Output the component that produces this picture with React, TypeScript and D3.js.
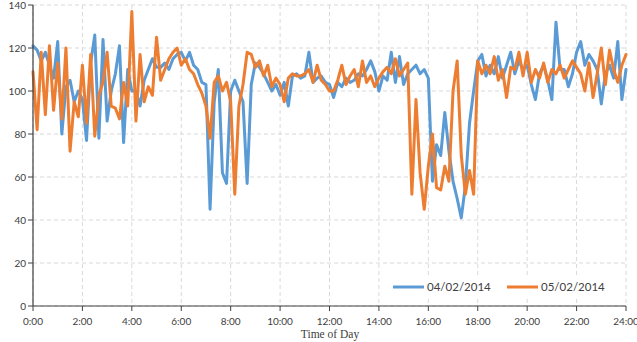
import React from "react";
import * as d3 from "d3";

const seriesNames = ["04/02/2014", "05/02/2014"];
const colors = ["#5B9BD5", "#ED7D31"];

// 10-minute samples, 0:00 .. 24:00
const blue = [
  121, 119, 114, 118, 112, 106, 123, 80, 102, 105, 95, 100, 96, 77, 113, 126, 78, 124, 86, 100,
  108, 121, 76, 110, 100, 100, 93, 105, 110, 115, 111, 111, 113, 110, 115, 117, 118, 114, 118, 112,
  110, 104, 103, 45, 95, 110, 62, 57, 100, 105, 100, 95, 57, 103, 113, 111, 108, 104, 100, 103,
  98, 104, 93, 107, 108, 106, 107, 118, 104, 106, 107, 104, 103, 97, 104, 102, 106, 104, 105, 108,
  107, 110, 114, 109, 100, 107, 105, 118, 104, 116, 103, 108, 110, 112, 108, 110, 106, 58, 75, 70,
  90, 72, 58, 50, 41, 56, 85, 100, 114, 117, 107, 112, 108, 116, 106, 112, 118, 108, 114, 110,
  112, 103, 96, 108, 112, 105, 96, 132, 110, 110, 102, 108, 118, 123, 112, 117, 114, 110, 94, 108,
  112, 106, 123, 96, 110,
];
const orange = [
  109, 82, 118, 89, 121, 91, 113, 87, 120, 72, 95, 88, 112, 85, 117, 79, 98, 104, 118, 93,
  92, 87, 104, 93, 137, 86, 117, 95, 102, 98, 125, 105, 110, 115, 118, 120, 112, 115, 110, 108,
  103, 99, 93, 78, 104, 107, 100, 104, 95, 52, 93, 103, 118, 117, 111, 114, 107, 112, 102, 106,
  103, 95, 106, 108, 107, 107, 108, 110, 104, 112, 105, 103, 100, 100, 105, 112, 103, 107, 110, 102,
  114, 104, 107, 102, 106, 109, 111, 108, 115, 107, 110, 113, 52, 96, 62, 45, 65, 80, 55, 54,
  65, 58, 100, 114, 70, 52, 63, 52, 114, 108, 112, 108, 116, 105, 110, 97, 111, 110, 118, 107,
  118, 104, 110, 106, 113, 104, 110, 108, 112, 106, 110, 114, 111, 108, 100, 113, 97, 108, 120, 103,
  119, 110, 104, 112, 117,
];
const xTickHours = [0, 2, 4, 6, 8, 10, 12, 14, 16, 18, 20, 22, 24];
const yTicks = [0, 20, 40, 60, 80, 100, 120, 140];
const xTitle = "Time of Day";

export default function App() {
  const W = 637, H = 342;
  const left = 33, right = 626, top = 5, bottom = 306;
  const x = d3.scaleLinear().domain([0, 24]).range([left, right]);
  const y = d3.scaleLinear().domain([0, 140]).range([bottom, top]);
  const step = 24 / (blue.length - 1);
  const line = d3
    .line<number>()
    .x((_, i) => x(i * step))
    .y((d) => y(d))
    .curve(d3.curveLinear);
  const tickFont = "Lato, 'Noto Sans', sans-serif";
  const grid = "#d9d9d9";
  const data = [blue, orange];
  const legendY = 287;
  const legendItems = [
    { x1: 393, x2: 424, tx: 427 },
    { x1: 507, x2: 538, tx: 541 },
  ];
  return (
    <svg width={W} height={H} style={{ position: "absolute", left: 0, top: 0, background: "#fff" }}>
      <rect x={0} y={0} width={W} height={H} fill="#fff" />
      {yTicks.map((t) => (
        <line key={"gy" + t} x1={left} x2={right} y1={y(t)} y2={y(t)} stroke={grid} strokeWidth={1} strokeDasharray="4,3" />
      ))}
      {xTickHours.map((h) => (
        <line key={"gx" + h} x1={x(h)} x2={x(h)} y1={top} y2={bottom} stroke={grid} strokeWidth={1} strokeDasharray="4,3" />
      ))}
      {data.map((s, k) => (
        <path key={"s" + k} d={line(s) || ""} fill="none" stroke={colors[k]} strokeWidth={3} strokeLinejoin="round" strokeLinecap="round" />
      ))}
      <rect x={388} y={278} width={230} height={18} fill="#fff" />
      {legendItems.map((l, k) => (
        <g key={"l" + k}>
          <line x1={l.x1} x2={l.x2} y1={legendY} y2={legendY} stroke={colors[k]} strokeWidth={3} />
          <text x={l.tx} y={legendY + 4} fontSize={11.5} fontFamily={tickFont} fill="#404040">
            {seriesNames[k]}
          </text>
        </g>
      ))}
      <line x1={left} x2={left} y1={top} y2={bottom} stroke="#404040" strokeWidth={1.2} />
      <line x1={left} x2={right} y1={bottom} y2={bottom} stroke="#404040" strokeWidth={1.2} />
      {yTicks.map((t) => (
        <g key={"yt" + t}>
          <line x1={left - 5} x2={left} y1={y(t)} y2={y(t)} stroke="#404040" />
          <text x={left - 7} y={y(t) + 3.5} textAnchor="end" fontSize={10} fontFamily={tickFont} fill="#404040">
            {t}
          </text>
        </g>
      ))}
      {xTickHours.map((h) => (
        <g key={"xt" + h}>
          <line x1={x(h)} x2={x(h)} y1={bottom} y2={bottom + 5} stroke="#404040" />
          <text x={x(h)} y={bottom + 19} textAnchor="middle" fontSize={10} fontFamily={tickFont} fill="#404040">
            {h + ":00"}
          </text>
        </g>
      ))}
      <text x={330} y={338} textAnchor="middle" fontSize={11.5} fontFamily="'Liberation Serif', 'DejaVu Serif', serif" fill="#404040">
        {xTitle}
      </text>
    </svg>
  );
}
